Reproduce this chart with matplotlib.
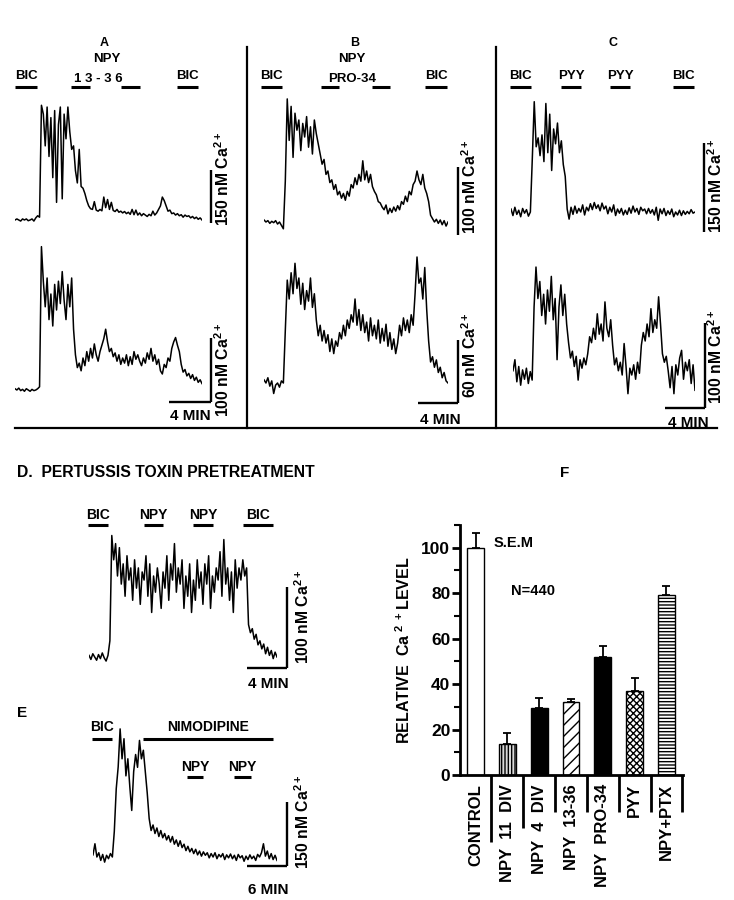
import numpy as np
import matplotlib
matplotlib.use('Agg')
import matplotlib.pyplot as plt

plt.rcParams['font.family'] = ['Liberation Sans', 'DejaVu Sans']
plt.rcParams['font.weight'] = 'bold'
plt.rcParams['axes.labelweight'] = 'bold'
plt.rcParams['mathtext.fontset'] = 'custom'
plt.rcParams['mathtext.bf'] = 'Liberation Sans:bold'
plt.rcParams['mathtext.rm'] = 'Liberation Sans:bold'
plt.rcParams['mathtext.default'] = 'bf'
plt.rcParams['hatch.linewidth'] = 1.0

# ---- calcium traces (nM above baseline) ----
trace_a1 = [0, 3, 0, -3, 3, 0, 3, -2, 0, 3, -3, 6, 12, 8,
            325, 300, 210, 320, 180, 290, 120, 310, 50, 270, 320, 60, 300, 230, 320, 250,
            200, 210, 140, 105, 200, 95, 90, 75, 55, 40,
            32, 30, 52, 28, 25, 30, 26, 65, 35, 58, 30, 50, 27, 24, 30, 22, 25, 20, 24, 18,
            22, 16, 30, 15, 28, 14, 20, 12, 18, 14, 10, 16, 12, 25, 14, 20, 30, 40, 65, 55,
            40, 25, 28, 18, 20, 14, 18, 12, 15, 8, 14, 10, 12, 6, 10, 4, 8, 2, 6, 0]

trace_a2 = [2, 0, 3, -1, 1, -2, 2, 0, -2, 1, -1, 0, 2, 5,
            224, 170, 130, 175, 110, 150, 100, 165, 125, 170, 135, 185, 140, 110, 165, 130,
            175, 95, 55, 35, 42, 30, 50, 38, 60, 45, 65, 50, 72, 55, 45, 60, 70, 80, 95, 75,
            60, 65, 52, 58, 45, 55, 40, 50, 42, 55, 38, 52, 40, 60, 48, 55, 45, 38, 50, 42,
            58, 48, 65, 45, 55, 40, 48, 30, 25, 40, 35, 50, 45, 65, 75, 82, 70, 60, 40, 28,
            32, 22, 26, 18, 24, 15, 20, 12, 16, 10]

trace_b1 = [3, 0, 2, -2, 1, -1, 2, -3, 0, -5, -10,
            60, 181, 120, 170, 95, 160, 135, 150, 105, 145, 125, 155, 110, 140, 100, 150, 130,
            115, 100, 85, 92, 70, 75, 58, 62, 48, 55, 40, 45, 35, 42, 32, 45, 38, 55, 50, 65,
            55, 70, 60, 90, 62, 75, 58, 70, 52, 45, 40, 30, 28, 22, 18, 25, 12, 20, 14, 22,
            16, 24, 18, 30, 26, 38, 30, 45, 40, 55, 60, 75, 62, 55, 70, 50, 42, 30, 10, 5,
            0, 4, -2, 3, -4, 2, -6, 0]

trace_b2 = [3, 0, 5, -3, 2, -10, -2, 0, -4, 2, 0,
            50, 98, 80, 105, 85, 114, 90, 100, 75, 95, 70, 88, 78, 100, 72, 85, 60, 45, 55,
            40, 50, 38, 46, 30, 42, 28, 40, 35, 48, 42, 55, 45, 60, 52, 65, 58, 80, 55, 70,
            50, 65, 48, 58, 40, 62, 45, 55, 42, 60, 38, 52, 40, 56, 35, 48, 32, 42, 28, 38,
            55, 45, 62, 50, 60, 48, 65, 55, 85, 120, 95, 100, 80, 110, 70, 40, 20, 25, 15,
            22, 10, 15, 5, 10, 2, 0]

trace_c1 = [5, -6, 8, -4, 3, -8, 6, -2, 4, -7, 0,
            90, 186, 110, 125, 95, 130, 85, 183, 100, 165, 70, 140, 115, 150, 100, 120, 80,
            60, 5, -12, 8, -4, 10, -2, 6, 0, 12, -5, 8, 2, 14, 4, 16, 6, 12, 2, 15, 5, 10,
            -3, 8, 0, 12, -6, 5, -2, 6, -5, 3, -4, 7, -2, 10, 0, 6, -4, 8, 2, 5, -3, 6, -2,
            4, -5, 8, -14, 5, -3, 6, -6, 2, -4, 5, -8, 0, -5, 3, -6, 2, -4, 1, -3, 4, -2, 0]

trace_c2 = [5, 18, -8, 10, -12, 6, -5, 8, -10, 4, -6,
            80, 127, 90, 110, 70, 95, 60, 100, 75, 116, 65, 90, 18, 80, 106, 70, 95, 60, 38,
            20, 28, 10, 22, -6, 18, 8, 20, 12, 25, 45, 38, 55, 42, 72, 48, 60, 40, 86, 55,
            45, 65, 35, 12, 20, 5, 15, 0, 37, 10, -22, 8, 0, 12, -5, 15, 2, 35, 50, 40, 60,
            45, 78, 50, 65, 55, 92, 60, 25, 15, 22, 5, -15, 10, -22, 12, 0, 20, 29, -5, 15,
            5, 18, -10, 12, -18]

trace_d = [2, -3, 4, 0, -4, 3, -2, 5, -1, -5, 2, 20,
           150, 120, 140, 100, 135, 90, 115, 75, 125, 95, 110, 70, 120, 85, 110, 65, 105, 95,
           125, 75, 115, 55, 100, 80, 110, 90, 60, 105, 85, 125, 70, 115, 95, 140, 80, 110,
           90, 120, 60, 100, 75, 115, 55, 95, 70, 120, 85, 105, 65, 115, 90, 125, 60, 100,
           80, 110, 95, 130, 75, 145, 90, 110, 70, 105, 55, 120, 85, 110, 95, 120, 100, 110,
           40, 30, 35, 22, 28, 15, 20, 10, 16, 4, 12, 2, 8, -2, 6, 0]

trace_e = [5, 31, 0, 10, -8, 6, -12, 4, -4, 8, 0,
           60, 160, 211, 300, 230, 277, 190, 230, 165, 109, 200, 240, 210, 273, 230, 250, 200,
           150, 90, 62, 75, 55, 68, 48, 62, 45, 55, 40, 50, 35, 48, 30, 40, 25, 38, 22, 30,
           15, 25, 12, 20, 8, 18, 5, 14, 2, 12, 4, 10, -2, 8, 0, 10, -4, 6, 0, 8, -6, 5, -2,
           7, -4, 4, -8, 6, -2, 3, -10, 2, -6, 5, -4, 2, -8, 6, 0, 10, 31, 2, 14, -4, 8, -6,
           4, -8]

# ---- summary bar chart (panel F) ----
categories = ['CONTROL', 'NPY  11  DIV', 'NPY  4  DIV', 'NPY  13-36',
              'NPY  PRO-34', 'PYY', 'NPY+PTX']
levels = [100, 13.5, 29.5, 32, 52, 37, 79]
sem = [6.6, 4.8, 4.4, 1.6, 4.7, 5.8, 4.0]
bar_faces = ['white', '0.85', 'black', 'white', 'black', 'white', 'white']
bar_hatch = [None, '|||||', None, '///', None, 'xxxxx', '-----']

W, H = 734, 900
fig = plt.figure(figsize=(W / 100, H / 100), dpi=100)
ov = fig.add_axes([0, 0, 1, 1])
ov.set_xlim(0, W)
ov.set_ylim(H, 0)
ov.axis('off')


def trace_axes(x0, x1, ybase, k, vals):
    top, bot = ybase - 240, ybase + 40
    ax = fig.add_axes([x0 / W, 1 - bot / H, (x1 - x0) / W, (bot - top) / H])
    ax.plot(np.arange(len(vals)), vals, color='k', lw=1.1)
    ax.set_xlim(0, len(vals) - 1)
    ax.set_ylim(-40 / k, 240 / k)
    ax.axis('off')
    return ax


def scalebar(ax, x0, x1, xpx, low, size, hlen=0):
    tr = ax.get_yaxis_transform()
    fx = (xpx - x0) / (x1 - x0)
    ax.plot([fx, fx], [low, low + size], color='k', lw=1.7, transform=tr,
            clip_on=False, solid_capstyle='butt')
    if hlen:
        fh = hlen / (x1 - x0)
        ax.plot([fx - fh, fx], [low, low], color='k', lw=1.7, transform=tr,
                clip_on=False, solid_capstyle='butt')


def drug(x0, x1, y, label=None, ly=None, fs=9.5):
    ov.plot([x0, x1], [y, y], color='k', lw=2.2, solid_capstyle='butt')
    if label:
        ov.text((x0 + x1) / 2, ly if ly else y - 8, label, ha='center',
                va='baseline', fontsize=fs, fontweight='bold')


def sclabel(x, ybot, txt):
    ov.text(x, ybot, txt, rotation=90, ha='center', va='bottom', fontsize=11.3,
            fontweight='bold')


def minlabel(x, y, txt):
    ov.text(x, y, txt, ha='center', va='baseline', fontsize=11)


ca = 'nM Ca$^{2+}$'

# separators
ov.plot([247, 247], [47, 428], color='k', lw=1.6)
ov.plot([496, 496], [47, 428], color='k', lw=1.6)
ov.plot([15, 717], [428, 428], color='k', lw=1.6)

for x, t in [(104, 'A'), (355, 'B'), (613, 'C')]:
    ov.text(x, 46, t, ha='center', va='baseline', fontsize=9)

# panel A
drug(15, 37, 87, 'BIC')
drug(71, 90, 87)
drug(121, 140, 87)
drug(177, 198, 87, 'BIC')
ov.text(107, 62, 'NPY', ha='center', va='baseline', fontsize=9.5)
ov.text(98, 82, '1 3 - 3 6', ha='center', va='baseline', fontsize=9.5)
ax = trace_axes(15, 202, 220, 0.353, trace_a1)
scalebar(ax, 15, 202, 211, -8, 150)
sclabel(223, 226, '150 ' + ca)
ax = trace_axes(15, 202, 390, 0.64, trace_a2)
scalebar(ax, 15, 202, 211, -19, 100, 42)
sclabel(223, 417, '100 ' + ca)
minlabel(190, 420, '4 MIN')

# panel B
drug(261, 282, 87, 'BIC')
drug(321, 339, 87)
drug(372, 390, 87)
drug(425, 447, 87, 'BIC')
ov.text(352, 62, 'NPY', ha='center', va='baseline', fontsize=9.5)
ov.text(352, 82, 'PRO-34', ha='center', va='baseline', fontsize=9.5)
ax = trace_axes(264, 448, 222, 0.68, trace_b1)
scalebar(ax, 264, 448, 458, -19, 100)
sclabel(470, 234, '100 ' + ca)
ax = trace_axes(264, 448, 383, 1.05, trace_b2)
scalebar(ax, 264, 448, 458, -19, 60, 40)
sclabel(470, 398, '60 ' + ca)
minlabel(440, 424, '4 MIN')

# panel C
drug(510, 531, 87, 'BIC')
drug(561, 581, 87, 'PYY')
drug(610, 630, 87, 'PYY')
drug(673, 694, 87, 'BIC')
ax = trace_axes(511, 695, 212, 0.593, trace_c1)
scalebar(ax, 511, 695, 704, -34, 150)
sclabel(716, 233, '150 ' + ca)
ax = trace_axes(513, 695, 375, 0.85, trace_c2)
scalebar(ax, 513, 695, 705, -39, 100, 40)
sclabel(716, 404, '100 ' + ca)
minlabel(688, 427, '4 MIN')

# panel D
ov.text(17, 477, 'D.  PERTUSSIS TOXIN PRETREATMENT', ha='left', va='baseline',
        fontsize=11.3)
drug(88, 108, 525, 'BIC', 519, 10)
drug(144, 163, 525, 'NPY', 519, 10)
drug(193, 213, 525, 'NPY', 519, 10)
drug(243, 273, 525, 'BIC', 519, 10)
ax = trace_axes(89, 277, 657, 0.81, trace_d)
scalebar(ax, 89, 277, 287, -14, 100, 40)
sclabel(303, 664, '100 ' + ca)
minlabel(268, 688, '4 MIN')

# panel E
ov.text(17, 717, 'E', ha='left', va='baseline', fontsize=11)
drug(92, 112, 739, 'BIC', 731, 10)
drug(143, 273, 739, 'NIMODIPINE', 731, 10)
drug(187, 203, 777, 'NPY', 771, 10)
drug(234, 251, 777, 'NPY', 771, 10)
ax = trace_axes(93, 277, 857, 0.427, trace_e)
scalebar(ax, 93, 277, 287, -21, 150, 40)
sclabel(303, 869, '150 ' + ca)
minlabel(268, 894, '6 MIN')

# panel F
ov.text(565, 477, 'F', ha='center', va='baseline', fontsize=11)
bx = fig.add_axes([460 / W, 1 - 775 / H, (683 - 460) / W, 250 / H])
xs = np.arange(len(categories))
bars = bx.bar(xs, levels, width=0.53, color=bar_faces, edgecolor='k', lw=1.0)
for b, h in zip(bars, bar_hatch):
    if h:
        b.set_hatch(h)
bx.errorbar(xs, levels, yerr=[np.zeros(len(sem)), sem], fmt='none', ecolor='k',
            elinewidth=1.3, capsize=3, capthick=1.3)
bx.set_xlim(-0.49, 6.52)
bx.set_ylim(0, 110)
for s in ['top', 'right']:
    bx.spines[s].set_visible(False)
bx.spines['left'].set_linewidth(2)
bx.spines['bottom'].set_linewidth(2)
bx.set_yticks(np.arange(0, 101, 20))
bx.set_yticks(np.arange(10, 111, 20), minor=True)
bx.tick_params(axis='y', which='major', length=6, width=2, labelsize=12.5, pad=1)
bx.tick_params(axis='y', which='minor', length=4, width=1.5)
bx.set_xticks([])
bx.set_ylabel('RELATIVE  Ca$^{\\ 2\\ +}$LEVEL', fontsize=11.5, fontweight='bold',
              labelpad=6)
tr = bx.get_xaxis_transform()
seps = [67, 53, 37, 37, 37, 37, 37]
for i, d in enumerate(seps):
    bx.plot([i + 0.5, i + 0.5], [0, -d / 250], color='k', lw=2, transform=tr,
            clip_on=False, solid_capstyle='butt')
for i, c in enumerate(categories):
    bx.text(i, -9 / 250, c, transform=tr, rotation=90, ha='center', va='top',
            fontsize=12)
bx.text(1.2, 102, 'S.E.M', ha='center', va='center', fontsize=10.5)
bx.text(1.8, 81, 'N=440', ha='center', va='center', fontsize=10.5)

fig.savefig('out.png', dpi=100)
